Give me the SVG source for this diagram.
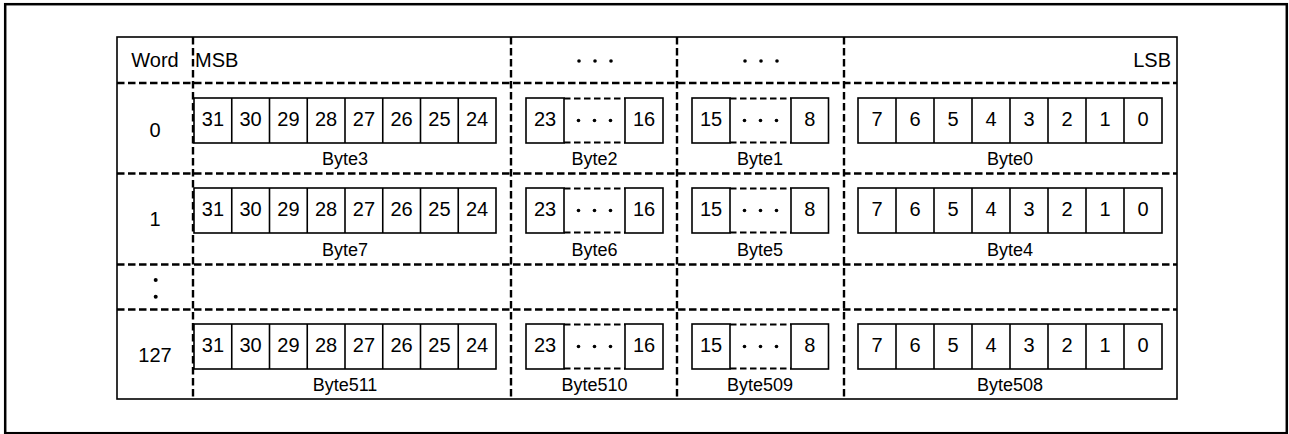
<svg xmlns="http://www.w3.org/2000/svg" width="1289" height="434" viewBox="0 0 1289 434">
<style>
text{font-family:"Liberation Sans",Arial,sans-serif;fill:#000}
.t{font-size:20px}
.n{font-size:20px;text-anchor:middle}
.b{font-size:18px;text-anchor:middle}
.cell{fill:#fff;stroke:#000;stroke-width:1.6}
.solid{fill:none;stroke:#000;stroke-width:1.6}
.dash{fill:none;stroke:#000;stroke-width:2.4;stroke-dasharray:7.5 3.5}
.cdash{fill:none;stroke:#000;stroke-width:2.2;stroke-dasharray:6.5 3.5}
.dot{fill:#000}
</style>
<rect x="0" y="0" width="1289" height="434" fill="#fff"/>
<rect x="5.2" y="4.2" width="1281.6" height="429" fill="none" stroke="#000" stroke-width="2.5"/>

<g id="grid">
<rect class="solid" x="117" y="37" width="1060" height="362"/>
<line class="dash" x1="117" y1="83" x2="1177" y2="83"/>
<line class="dash" x1="117" y1="173.5" x2="1177" y2="173.5"/>
<line class="dash" x1="117" y1="264.5" x2="1177" y2="264.5"/>
<line class="dash" x1="117" y1="309.5" x2="1177" y2="309.5"/>
<line class="dash" x1="193" y1="37" x2="193" y2="399"/>
<line class="dash" x1="511" y1="37" x2="511" y2="399"/>
<line class="dash" x1="677" y1="37" x2="677" y2="399"/>
<line class="dash" x1="844" y1="37" x2="844" y2="399"/>
</g>

<g id="header">
<text class="t" x="155" y="67" text-anchor="middle">Word</text>
<text class="t" x="195" y="67">MSB</text>
<text class="t" x="1171" y="67" text-anchor="end">LSB</text>
<circle class="dot" cx="579" cy="61" r="1.8"/><circle class="dot" cx="595" cy="61" r="1.8"/><circle class="dot" cx="611" cy="61" r="1.8"/>
<circle class="dot" cx="745" cy="61" r="1.8"/><circle class="dot" cx="761" cy="61" r="1.8"/><circle class="dot" cx="777" cy="61" r="1.8"/>
</g>

<g id="row0">
<text class="n" x="155" y="137">0</text>
<g id="row0-byte3">
<rect class="cell" x="194" y="98" width="302" height="45"/>
<path class="solid" d="M231.75 98V143M269.5 98V143M307.25 98V143M345 98V143M382.75 98V143M420.5 98V143M458.25 98V143"/>
<text class="n" x="212.9" y="126">31</text><text class="n" x="250.6" y="126">30</text><text class="n" x="288.4" y="126">29</text><text class="n" x="326.1" y="126">28</text><text class="n" x="363.9" y="126">27</text><text class="n" x="401.6" y="126">26</text><text class="n" x="439.4" y="126">25</text><text class="n" x="477.1" y="126">24</text>
<text class="b" x="345" y="165">Byte3</text>
</g>
<g id="row0-byte2">
<rect class="cell" x="526" y="98" width="38" height="45"/>
<rect class="cell" x="625" y="98" width="38" height="45"/>
<path class="cdash" d="M564 98.5H625M564 142.5H625"/>
<text class="n" x="545" y="126">23</text><text class="n" x="644" y="126">16</text>
<circle class="dot" cx="578.5" cy="120.5" r="1.8"/><circle class="dot" cx="594.5" cy="120.5" r="1.8"/><circle class="dot" cx="610.5" cy="120.5" r="1.8"/>
<text class="b" x="594.5" y="165">Byte2</text>
</g>
<g id="row0-byte1">
<rect class="cell" x="692" y="98" width="38" height="45"/>
<rect class="cell" x="791" y="98" width="37.5" height="45"/>
<path class="cdash" d="M730 98.5H791M730 142.5H791"/>
<text class="n" x="711" y="126">15</text><text class="n" x="809.8" y="126">8</text>
<circle class="dot" cx="744.5" cy="120.5" r="1.8"/><circle class="dot" cx="760.5" cy="120.5" r="1.8"/><circle class="dot" cx="776.5" cy="120.5" r="1.8"/>
<text class="b" x="760" y="165">Byte1</text>
</g>
<g id="row0-byte0">
<rect class="cell" x="858" y="98" width="304" height="45"/>
<path class="solid" d="M896 98V143M934 98V143M972 98V143M1010 98V143M1048 98V143M1086 98V143M1124 98V143"/>
<text class="n" x="877" y="126">7</text><text class="n" x="915" y="126">6</text><text class="n" x="953" y="126">5</text><text class="n" x="991" y="126">4</text><text class="n" x="1029" y="126">3</text><text class="n" x="1067" y="126">2</text><text class="n" x="1105" y="126">1</text><text class="n" x="1143" y="126">0</text>
<text class="b" x="1010" y="165">Byte0</text>
</g>
</g>

<g id="row1">
<text class="n" x="155" y="226">1</text>
<g id="row1-byte7">
<rect class="cell" x="194" y="188" width="302" height="45"/>
<path class="solid" d="M231.75 188V233M269.5 188V233M307.25 188V233M345 188V233M382.75 188V233M420.5 188V233M458.25 188V233"/>
<text class="n" x="212.9" y="216">31</text><text class="n" x="250.6" y="216">30</text><text class="n" x="288.4" y="216">29</text><text class="n" x="326.1" y="216">28</text><text class="n" x="363.9" y="216">27</text><text class="n" x="401.6" y="216">26</text><text class="n" x="439.4" y="216">25</text><text class="n" x="477.1" y="216">24</text>
<text class="b" x="345" y="256">Byte7</text>
</g>
<g id="row1-byte6">
<rect class="cell" x="526" y="188" width="38" height="45"/>
<rect class="cell" x="625" y="188" width="38" height="45"/>
<path class="cdash" d="M564 188.5H625M564 232.5H625"/>
<text class="n" x="545" y="216">23</text><text class="n" x="644" y="216">16</text>
<circle class="dot" cx="578.5" cy="210.5" r="1.8"/><circle class="dot" cx="594.5" cy="210.5" r="1.8"/><circle class="dot" cx="610.5" cy="210.5" r="1.8"/>
<text class="b" x="594.5" y="256">Byte6</text>
</g>
<g id="row1-byte5">
<rect class="cell" x="692" y="188" width="38" height="45"/>
<rect class="cell" x="791" y="188" width="37.5" height="45"/>
<path class="cdash" d="M730 188.5H791M730 232.5H791"/>
<text class="n" x="711" y="216">15</text><text class="n" x="809.8" y="216">8</text>
<circle class="dot" cx="744.5" cy="210.5" r="1.8"/><circle class="dot" cx="760.5" cy="210.5" r="1.8"/><circle class="dot" cx="776.5" cy="210.5" r="1.8"/>
<text class="b" x="760" y="256">Byte5</text>
</g>
<g id="row1-byte4">
<rect class="cell" x="858" y="188" width="304" height="45"/>
<path class="solid" d="M896 188V233M934 188V233M972 188V233M1010 188V233M1048 188V233M1086 188V233M1124 188V233"/>
<text class="n" x="877" y="216">7</text><text class="n" x="915" y="216">6</text><text class="n" x="953" y="216">5</text><text class="n" x="991" y="216">4</text><text class="n" x="1029" y="216">3</text><text class="n" x="1067" y="216">2</text><text class="n" x="1105" y="216">1</text><text class="n" x="1143" y="216">0</text>
<text class="b" x="1010" y="256">Byte4</text>
</g>
</g>

<g id="row-ellipsis">
<circle class="dot" cx="155.7" cy="280" r="2"/>
<circle class="dot" cx="155.7" cy="296.7" r="2"/>
</g>

<g id="row127">
<text class="n" x="155" y="362">127</text>
<g id="row127-byte511">
<rect class="cell" x="194" y="324" width="302" height="45"/>
<path class="solid" d="M231.75 324V369M269.5 324V369M307.25 324V369M345 324V369M382.75 324V369M420.5 324V369M458.25 324V369"/>
<text class="n" x="212.9" y="352">31</text><text class="n" x="250.6" y="352">30</text><text class="n" x="288.4" y="352">29</text><text class="n" x="326.1" y="352">28</text><text class="n" x="363.9" y="352">27</text><text class="n" x="401.6" y="352">26</text><text class="n" x="439.4" y="352">25</text><text class="n" x="477.1" y="352">24</text>
<text class="b" x="345" y="391">Byte511</text>
</g>
<g id="row127-byte510">
<rect class="cell" x="526" y="324" width="38" height="45"/>
<rect class="cell" x="625" y="324" width="38" height="45"/>
<path class="cdash" d="M564 324.5H625M564 368.5H625"/>
<text class="n" x="545" y="352">23</text><text class="n" x="644" y="352">16</text>
<circle class="dot" cx="578.5" cy="346.5" r="1.8"/><circle class="dot" cx="594.5" cy="346.5" r="1.8"/><circle class="dot" cx="610.5" cy="346.5" r="1.8"/>
<text class="b" x="594.5" y="391">Byte510</text>
</g>
<g id="row127-byte509">
<rect class="cell" x="692" y="324" width="38" height="45"/>
<rect class="cell" x="791" y="324" width="37.5" height="45"/>
<path class="cdash" d="M730 324.5H791M730 368.5H791"/>
<text class="n" x="711" y="352">15</text><text class="n" x="809.8" y="352">8</text>
<circle class="dot" cx="744.5" cy="346.5" r="1.8"/><circle class="dot" cx="760.5" cy="346.5" r="1.8"/><circle class="dot" cx="776.5" cy="346.5" r="1.8"/>
<text class="b" x="760" y="391">Byte509</text>
</g>
<g id="row127-byte508">
<rect class="cell" x="858" y="324" width="304" height="45"/>
<path class="solid" d="M896 324V369M934 324V369M972 324V369M1010 324V369M1048 324V369M1086 324V369M1124 324V369"/>
<text class="n" x="877" y="352">7</text><text class="n" x="915" y="352">6</text><text class="n" x="953" y="352">5</text><text class="n" x="991" y="352">4</text><text class="n" x="1029" y="352">3</text><text class="n" x="1067" y="352">2</text><text class="n" x="1105" y="352">1</text><text class="n" x="1143" y="352">0</text>
<text class="b" x="1010" y="391">Byte508</text>
</g>
</g>
</svg>
